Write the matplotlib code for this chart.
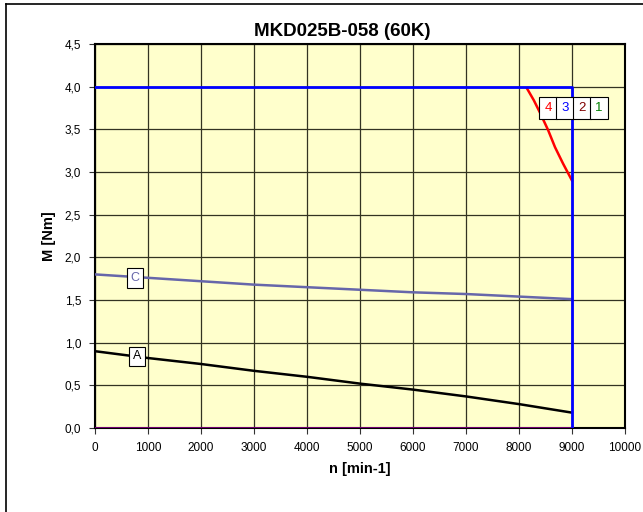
import matplotlib
matplotlib.use("Agg")
import matplotlib.pyplot as plt
from matplotlib.ticker import FuncFormatter, MultipleLocator
from matplotlib.lines import Line2D

plt.rcParams['font.family'] = ['Liberation Sans', 'DejaVu Sans']

title = "MKD025B-058 (60K)"
xlabel = "n [min-1]"
ylabel = "M [Nm]"

# curve A
a_n = [0, 1000, 2000, 3000, 4000, 5000, 6000, 7000, 8000, 9000]
a_m = [0.90, 0.82, 0.75, 0.67, 0.60, 0.52, 0.45, 0.37, 0.28, 0.18]
# curve C
c_n = [0, 1000, 2000, 3000, 4000, 5000, 6000, 7000, 8000, 9000]
c_m = [1.80, 1.76, 1.72, 1.68, 1.65, 1.62, 1.59, 1.57, 1.54, 1.51]
# curve 3 (blue limit)
b_n = [0, 9000, 9000]
b_m = [4.0, 4.0, 0.0]
# curve 4 (red)
r_n = [8150, 8280, 8400, 8550, 8680, 8830, 9000]
r_m = [3.98, 3.84, 3.69, 3.49, 3.29, 3.10, 2.90]
# curve along zero (purple)
p_n = [0, 9000]
p_m = [0.0, 0.0]

box_labels = ["4", "3", "2", "1"]
box_colors = ["#ff0000", "#0000ff", "#800000", "#008000"]
box_x = [8550, 8870, 9190, 9510]
box_y = 3.75

fig = plt.figure(figsize=(6.43, 5.12), dpi=100)
fig.patch.set_facecolor("white")
# frame lines
fig.add_artist(Line2D([6/643, 6/643], [0, 1 - 4/512], color="black", lw=1.2, transform=fig.transFigure))
fig.add_artist(Line2D([6/643, 1], [1 - 4/512, 1 - 4/512], color="black", lw=1.2, transform=fig.transFigure))

ax = fig.add_axes([95/643, 1 - 428/512, (625 - 95)/643, (428 - 44)/512])
ax.set_facecolor("#ffffcc")
ax.set_xlim(0, 10000)
ax.set_ylim(0, 4.5)
ax.xaxis.set_major_locator(MultipleLocator(1000))
ax.yaxis.set_major_locator(MultipleLocator(0.5))
ax.yaxis.set_major_formatter(FuncFormatter(lambda v, p: f"{v:.1f}".replace(".", ",")))
ax.grid(True, color="#333322", lw=0.9)
ax.set_axisbelow(True)
for s in ax.spines.values():
    s.set_linewidth(1.5)
    s.set_color("black")
ax.tick_params(labelsize=8.5, length=4, width=0.8, color="#333333", pad=6)

ax.plot(p_n, p_m, color="#800080", lw=2, zorder=3)
ax.plot(c_n, c_m, color="#6666aa", lw=1.8, zorder=3)
ax.plot(a_n, a_m, color="black", lw=1.8, zorder=3)
ax.plot(r_n, r_m, color="#ff0000", lw=1.8, zorder=3)
ax.plot(b_n, b_m, color="#0000ff", lw=2, zorder=4)

ax.text(790, 0.84, "A", ha="center", va="center", fontsize=9, color="black", zorder=5,
        bbox=dict(boxstyle="square,pad=0.3", fc="white", ec="black", lw=0.8))
ax.text(755, 1.76, "C", ha="center", va="center", fontsize=9, color="#6666aa", zorder=5,
        bbox=dict(boxstyle="square,pad=0.3", fc="white", ec="black", lw=0.8))
for lab, col, x in zip(box_labels, box_colors, box_x):
    ax.text(x, box_y, lab, ha="center", va="center", fontsize=9.5, color=col, zorder=6,
            bbox=dict(boxstyle="square,pad=0.38", fc="white", ec="black", lw=0.8))

fig.text(342/643, 1 - 32/512, title, ha="center", va="center", fontsize=13.5, fontweight="bold")
ax.set_xlabel(xlabel, fontsize=10.5, fontweight="bold", labelpad=6)
ax.set_ylabel(ylabel, fontsize=10.5, fontweight="bold", labelpad=6)

fig.savefig("out.png", dpi=100)
